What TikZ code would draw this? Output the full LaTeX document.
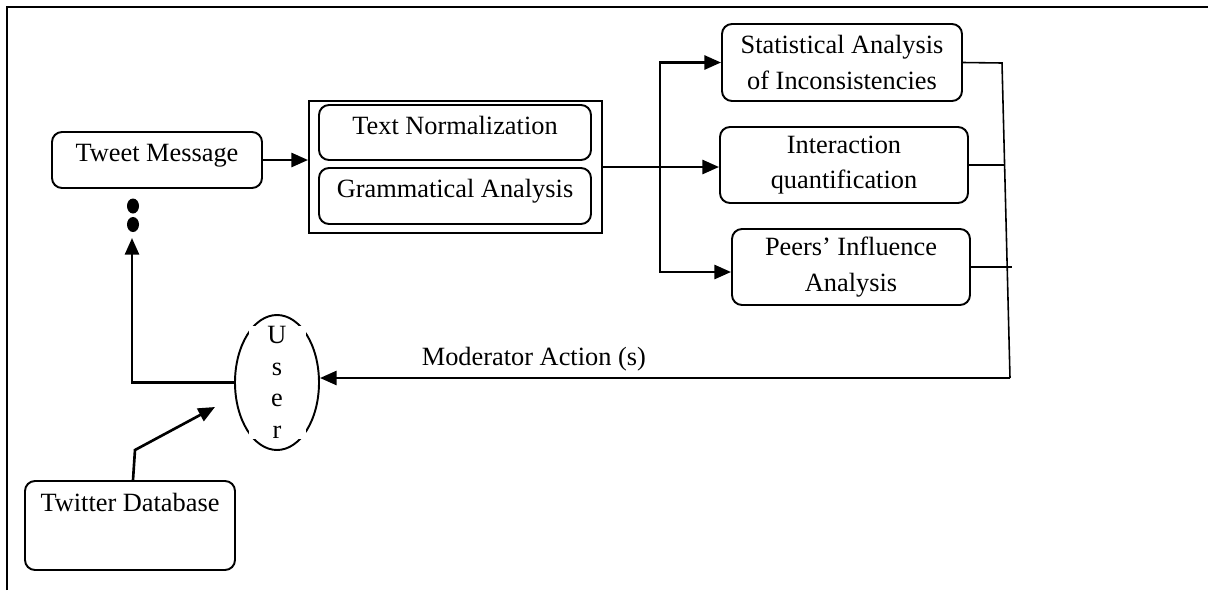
\documentclass[tikz,border=0pt]{standalone}
\usepackage{fontspec}
\setmainfont{Liberation Serif}
\usetikzlibrary{arrows.meta,shapes.geometric}

\begin{document}
\begin{tikzpicture}[
  font=\fontsize{15}{20}\selectfont,
  box/.style={draw,line width=1.1pt,rounded corners=0.2cm,align=center,inner sep=0pt},
  oneline/.style={text height=10.5pt,text depth=8.5pt},
  arr/.style={line width=1.5pt,-{Triangle[length=9.5pt,width=8pt]}},
  wire/.style={line width=0.9pt}
]
\useasboundingbox (0,0) rectangle (24.16,-11.8);
%\draw[help lines] (0,-12) grid (24,0);
\draw[line width=1pt] (0.14,-11.8) -- (0.14,-0.14) -- (24.16,-0.14);

\node[box,oneline,minimum width=4.2cm,minimum height=1.12cm] (tweet) at (3.14,-3.2) {Tweet Message};
\fill (2.66,-4.12) ellipse [x radius=0.12,y radius=0.15];
\fill (2.66,-4.49) ellipse [x radius=0.12,y radius=0.15];
\coordinate (dotstip) at (2.64,-4.76);

\node[draw,line width=1.1pt,minimum width=5.86cm,minimum height=2.64cm] (outer) at (9.11,-3.34) {};
\node[box,oneline,minimum width=5.44cm,minimum height=1.1cm] (norm) at (9.1,-2.65) {Text Normalization};
\node[box,oneline,minimum width=5.44cm,minimum height=1.12cm] (gram) at (9.1,-3.92) {Grammatical Analysis};

\node[box,minimum width=4.8cm,minimum height=1.54cm] (stat) at (16.84,-1.25) {Statistical Analysis\\of Inconsistencies};
\node[box,minimum width=4.96cm,minimum height=1.52cm] (inter) at (16.88,-3.3) {Interaction\\quantification};
\node[box,minimum width=4.76cm,minimum height=1.52cm] (peers) at (17.02,-5.34) {Peers' Influence\\Analysis};

\node[draw,ellipse,line width=1.1pt,minimum width=1.68cm,minimum height=2.7cm,inner sep=0pt] (user) at (5.54,-7.65) {};
\node[fill=white,inner xsep=0pt,inner ysep=0pt,minimum width=1.14cm,align=center,font=\fontsize{15}{18}\selectfont] (userlbl) at (user.center) {U\\s\\e\\r};

\node[box,text height=10.5pt,text depth=26pt,minimum width=4.2cm,minimum height=1.78cm] (db) at (2.6,-10.51) {Twitter Database};

\draw[arr] (tweet.east) -- (tweet.east -| outer.west);
\coordinate (split) at (13.2,-3.36);
\draw[arr] (outer.east) -- (outer.east -| inter.west);
\draw[arr] (split) |- (stat.west);
\draw[arr] (split) |- ([yshift=-0.1cm]peers.west);

\coordinate (rtop) at (20.04,-1.26);
\coordinate (rbot) at (20.2,-7.56);
\draw[wire] (stat.east) -- (rtop) -- (rbot);
\draw[wire] (inter.east) -- ++(0.7,0);
\draw[wire] (peers.east) -- ++(0.82,0);
\draw[arr] (rbot) -- node[pos=0.69,above=0pt] (modlbl) {Moderator Action (s)} (rbot -| user.east);

\draw[arr] (user.west) -| (dotstip);
\coordinate (userin) at (4.3,-8.14);
\draw[arr] ([xshift=0.06cm]db.north) -- (2.7,-9.0) -- (userin);
\end{tikzpicture}
\end{document}
